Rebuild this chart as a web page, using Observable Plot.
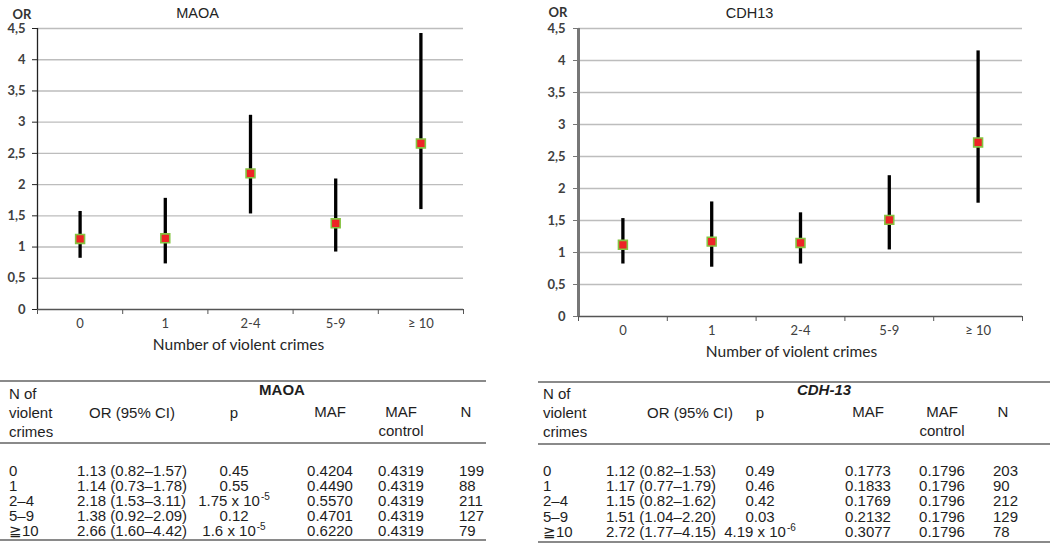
<!DOCTYPE html>
<html>
<head>
<meta charset="utf-8">
<script src="https://cdn.jsdelivr.net/npm/d3@7"></script>
<script src="https://cdn.jsdelivr.net/npm/@observablehq/plot@0.6"></script>
<style>
  html, body { margin: 0; padding: 0; background: white; }
  #root { position: relative; width: 1050px; height: 556px; overflow: hidden; background: white; }
  .chart { position: absolute; top: 0; }
  .chart g[aria-label="y-axis tick label"] text { font-weight: bold; }
  .t { position: absolute; white-space: nowrap; font-family: "Liberation Sans", Arial, Helvetica, sans-serif; font-size: 15px; color: #1e1e1e; line-height: 1; }
  .c { transform: translate(-50%, -50%); }
  .l { transform: translate(0, -50%); }
  .t sup { font-size: 10px; vertical-align: 0; position: relative; top: -6px; margin-left: 1px; }
  .rule { position: absolute; height: 1.5px; background: #8a8a8a; }
</style>
</head>
<body>
<div id="root"></div>
<script>
// ---------- data ----------
const categories = ["0", "1", "2-4", "5-9", "≥ 10"];
const yTicks = [0, 0.5, 1, 1.5, 2, 2.5, 3, 3.5, 4, 4.5];

const maoaOR = [1.13, 1.14, 2.18, 1.38, 2.66];
const maoaLo = [0.82, 0.73, 1.53, 0.92, 1.60];
const maoaHi = [1.57, 1.78, 3.11, 2.09, 4.42];
const maoaP = [0.45, 0.55, 1.75e-5, 0.12, 1.6e-5];
const maoaMAF = [0.4204, 0.4490, 0.5570, 0.4701, 0.6220];
const maoaMAFcontrol = [0.4319, 0.4319, 0.4319, 0.4319, 0.4319];
const maoaN = [199, 88, 211, 127, 79];

const cdhOR = [1.12, 1.17, 1.15, 1.51, 2.72];
const cdhLo = [0.82, 0.77, 0.82, 1.04, 1.77];
const cdhHi = [1.53, 1.79, 1.62, 2.20, 4.15];
const cdhP = [0.49, 0.46, 0.42, 0.03, 4.19e-6];
const cdhMAF = [0.1773, 0.1833, 0.1769, 0.2132, 0.3077];
const cdhMAFcontrol = [0.1796, 0.1796, 0.1796, 0.1796, 0.1796];
const cdhN = [203, 90, 212, 129, 78];

const tableRowLabels = ["0", "1", "2–4", "5–9", "≧10"];

// ---------- charts ----------
const root = document.getElementById("root");

function chart(o) {
  const rows = categories.map((c, i) => ({c, x: i + 0.5, or: o.or[i], lo: o.lo[i], hi: o.hi[i]}));
  return Plot.plot({
    width: o.width, height: o.height,
    marginTop: 28, marginLeft: o.marginLeft, marginRight: o.marginRight, marginBottom: o.marginBottom,
    style: {fontFamily: "Lato, 'Open Sans', sans-serif", background: "white", color: "#404040", overflow: "visible"},
    x: {domain: [0, 5]},
    y: {domain: [0, 4.5]},
    marks: [
      Plot.gridY(yTicks.filter(d => d > 0), {stroke: "#bdbdbd", strokeOpacity: 1, strokeWidth: 1.4}),
      Plot.ruleY([0], {stroke: "#555", strokeWidth: 1.5}),
      Plot.ruleX([0], {stroke: o.axisStroke, strokeWidth: o.axisWidth}),
      Plot.axisY({ticks: yTicks, tickFormat: d => String(d).replace(".", ","), tickSize: 5, tickPadding: o.tickPadding,
        stroke: o.axisStroke, fontSize: 13, label: null}),
      Plot.axisX({ticks: [0, 1, 2, 3, 4, 5], tickSize: 5, tickFormat: () => "", stroke: "#555", label: null}),
      Plot.text(rows, {x: "x", text: "c", frameAnchor: "bottom", dy: 18, fontSize: 13, fill: "#404040"}),
      Plot.text(["Number of violent crimes"], {frameAnchor: "bottom", dx: o.xLabelDx, dy: 40, fontSize: 15.5, fill: "#262626"}),
      Plot.ruleX(rows, {x: "x", y1: "lo", y2: "hi", stroke: "black", strokeWidth: 3.3}),
      Plot.dot(rows, {x: "x", y: "or", symbol: "square", r: 5, fill: "#ee2326", stroke: "#84c441", strokeWidth: 1.6}),
      Plot.text([o.title], {frameAnchor: "top", dx: o.titleDx, dy: -21, fontSize: 14.5, fill: "#222",
        fontFamily: "'Liberation Sans', Arial, sans-serif"}),
      Plot.text(["OR"], {frameAnchor: "top-left", textAnchor: "start", dx: o.orDx, dy: o.orDy, fontSize: 13,
        fontWeight: "bold", fill: "#333"})
    ]
  });
}

const left = chart({title: "MAOA", or: maoaOR, lo: maoaLo, hi: maoaHi,
  width: 520, height: 359, marginLeft: 37, marginRight: 57, marginBottom: 50,
  axisStroke: "#222", axisWidth: 1.3, tickPadding: 7, xLabelDx: -12, titleDx: -53, orDx: -25, orDy: -19});
left.classList.add("chart");
left.style.left = "0px";
root.appendChild(left);

const right = chart({title: "CDH13", or: cdhOR, lo: cdhLo, hi: cdhHi,
  width: 525, height: 364, marginLeft: 53, marginRight: 28, marginBottom: 48,
  axisStroke: "#777", axisWidth: 3, tickPadding: 8, xLabelDx: -9, titleDx: -51, orDx: -30, orDy: -21});
right.classList.add("chart");
right.style.left = "525px";
root.appendChild(right);

// ---------- tables ----------
function fmtP(p) {
  if (p < 0.001) {
    const e = Math.floor(Math.log10(p));
    const m = +(p / Math.pow(10, e)).toPrecision(3);
    return `${m} x 10<sup>${e}</sup>`;
  }
  return p.toFixed(2);
}

function put(html, x, y, cls, extra) {
  const d = document.createElement("div");
  d.className = "t " + cls;
  d.style.left = x + "px";
  d.style.top = y + "px";
  if (extra) Object.assign(d.style, extra);
  d.innerHTML = html;
  root.appendChild(d);
}
function rule(x1, x2, y) {
  const d = document.createElement("div");
  d.className = "rule";
  d.style.left = x1 + "px";
  d.style.width = (x2 - x1) + "px";
  d.style.top = (y - 0.75) + "px";
  root.appendChild(d);
}

function table(t) {
  rule(t.x1, t.x2, t.top);
  rule(t.x1, t.x2, t.mid);
  rule(t.x1, t.x2, t.bottom);
  put("N of", t.nLeft, 393, "l");
  put("violent", t.nLeft, 412, "l");
  put("crimes", t.nLeft, 431, "l");
  put(t.title, t.titleX, 389, "c", {fontWeight: "bold", fontStyle: t.italic ? "italic" : "normal"});
  put("OR (95% CI)", t.orHead, 412, "c");
  put("p", t.pX, 412, "c");
  put("MAF", t.mafX, 411, "c");
  put("MAF", t.mafcX, 411, "c");
  put("control", t.mafcX, 430, "c");
  put("N", t.nHead, 411, "c");
  tableRowLabels.forEach((lab, i) => {
    const y = t.rows[i];
    put(lab, t.nLeft, y, "l");
    put(`${t.or[i].toFixed(2)} (${t.lo[i].toFixed(2)}–${t.hi[i].toFixed(2)})`, t.orLeft, y, "l");
    put(fmtP(t.p[i]), t.pX, y, "c");
    put(t.maf[i].toFixed(4), t.mafX, y, "c");
    put(t.mafc[i].toFixed(4), t.mafcX, y, "c");
    put(String(t.n[i]), t.nDataLeft, y, "l");
  });
}

table({title: "MAOA", italic: false, or: maoaOR, lo: maoaLo, hi: maoaHi, p: maoaP, maf: maoaMAF, mafc: maoaMAFcontrol, n: maoaN,
  x1: 0, x2: 486, top: 381, mid: 443, bottom: 540, rows: [470, 485, 500, 515, 530],
  nLeft: 9, titleX: 282, orHead: 132, orLeft: 77, pX: 234, mafX: 330, mafcX: 401, nHead: 466, nDataLeft: 459});

table({title: "CDH-13", italic: true, or: cdhOR, lo: cdhLo, hi: cdhHi, p: cdhP, maf: cdhMAF, mafc: cdhMAFcontrol, n: cdhN,
  x1: 538, x2: 1050, top: 382, mid: 444, bottom: 542, rows: [470, 485, 500, 516, 531],
  nLeft: 543, titleX: 824, orHead: 690, orLeft: 606, pX: 760, mafX: 868, mafcX: 942, nHead: 1003, nDataLeft: 993});
</script>
</body>
</html>
